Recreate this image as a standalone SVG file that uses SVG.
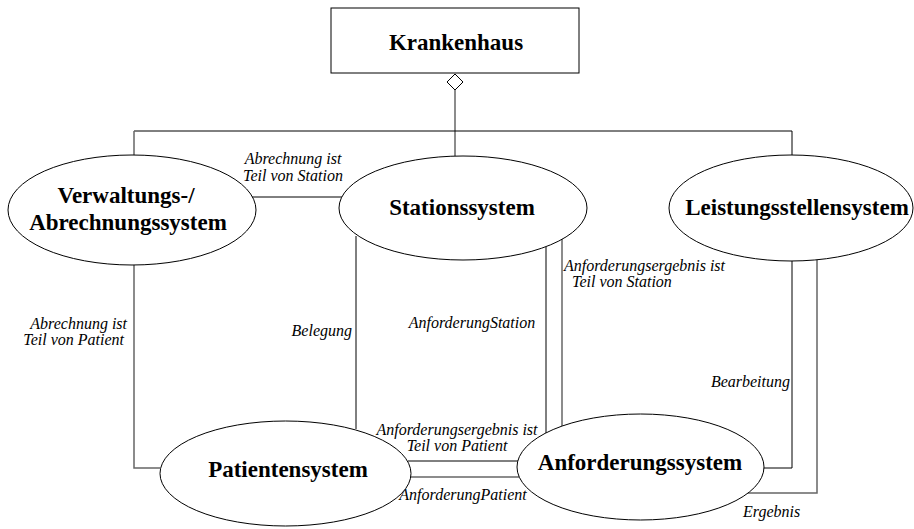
<svg xmlns="http://www.w3.org/2000/svg" width="914" height="529" viewBox="0 0 914 529">
<style>
.node{fill:#fff;stroke:#000;stroke-width:1}
text{font-family:'Liberation Serif','Times New Roman',Times,'DejaVu Serif',serif}
.title{font-weight:bold;font-size:23px;fill:#000;text-anchor:middle}
.lbl{font-style:italic;font-size:16px;fill:#000}
.k{fill:none;stroke:#000;stroke-width:1}
.g{fill:none;stroke:#666;stroke-width:1.5}
</style>
<rect width="914" height="529" fill="#fff"/>
<g id="connectors">
  <polyline class="g" points="455,90 455,156"/>
  <polygon points="455,74 463,82 455,90 447,82" fill="#fff" stroke="#000" stroke-width="1"/>
  <polyline class="k" points="134,131 792,131"/>
  <polyline class="g" points="134,131 134,155"/>
  <polyline class="k" points="792,131 792,155"/>
  <polyline class="k" points="252,197 342,197"/>
  <polyline class="g" points="134,265 134,468 160,468"/>
  <polyline class="k" points="356,236 356,429"/>
  <polyline class="k" points="546,247 546,433"/>
  <polyline class="g" points="562,239 562,426"/>
  <polyline class="k" points="408,461 518,461"/>
  <polyline class="g" points="409,477 519,477"/>
  <polyline class="k" points="792,261 792,468 760,468"/>
  <polyline class="g" points="817,256 817,493 744,493"/>
</g>
<g id="labels">
  <text class="lbl" x="293" y="164" text-anchor="middle">Abrechnung ist</text>
  <text class="lbl" x="293" y="181" text-anchor="middle">Teil von Station</text>
  <text class="lbl" x="127" y="329" text-anchor="end">Abrechnung ist</text>
  <text class="lbl" x="124" y="345" text-anchor="end">Teil von Patient</text>
  <text class="lbl" x="352" y="336" text-anchor="end">Belegung</text>
  <text class="lbl" x="472" y="328" text-anchor="middle">AnforderungStation</text>
  <text class="lbl" x="564" y="271">Anforderungsergebnis ist</text>
  <text class="lbl" x="572" y="287">Teil von Station</text>
  <text class="lbl" x="457" y="435" text-anchor="middle">Anforderungsergebnis ist</text>
  <text class="lbl" x="457" y="451" text-anchor="middle">Teil von Patient</text>
  <text class="lbl" x="463" y="500" text-anchor="middle">AnforderungPatient</text>
  <text class="lbl" x="790" y="387" text-anchor="end">Bearbeitung</text>
  <text class="lbl" x="743" y="517">Ergebnis</text>
</g>
<g id="krankenhaus">
  <rect class="node" x="331" y="8" width="248" height="65"/>
  <text class="title" x="456" y="50">Krankenhaus</text>
</g>
<g id="verwaltung">
  <ellipse class="node" cx="132" cy="210" rx="124" ry="55"/>
  <text class="title" x="126" y="203">Verwaltungs-/</text>
  <text class="title" x="128" y="230">Abrechnungssystem</text>
</g>
<g id="station">
  <ellipse class="node" cx="463" cy="208" rx="124" ry="52"/>
  <text class="title" x="462" y="215">Stationssystem</text>
</g>
<g id="leistung">
  <ellipse class="node" cx="791" cy="208" rx="122" ry="53"/>
  <text class="title" x="797" y="215">Leistungsstellensystem</text>
</g>
<g id="patient">
  <ellipse class="node" cx="285.5" cy="473.5" rx="125.5" ry="52.5"/>
  <text class="title" x="288" y="477">Patientensystem</text>
</g>
<g id="anforderung">
  <ellipse class="node" cx="640.5" cy="467" rx="123.5" ry="53"/>
  <text class="title" x="640" y="470">Anforderungssystem</text>
</g>
</svg>
